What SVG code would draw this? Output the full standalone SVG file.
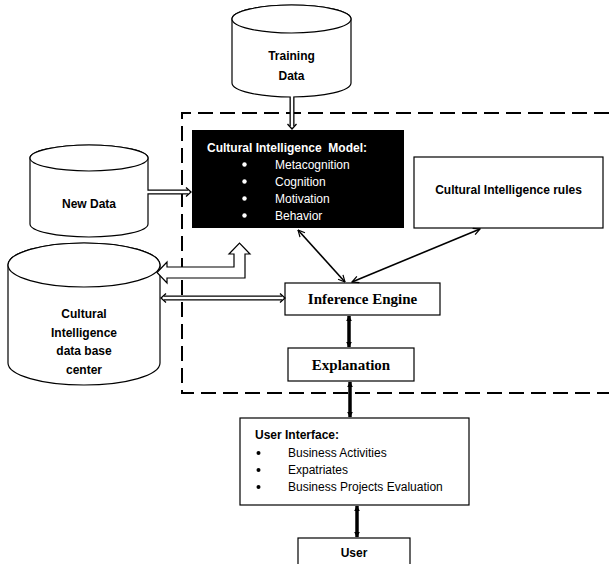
<svg xmlns="http://www.w3.org/2000/svg" width="609" height="564" viewBox="0 0 609 564">
<defs>
<style>
.cyl{fill:#fff;stroke:#000;stroke-width:1.2}
.box{fill:#fff;stroke:#000;stroke-width:1.2}
.lbl{font-family:"Liberation Sans",Arial,sans-serif;font-size:12px;font-weight:bold;fill:#000}
.txt{font-family:"Liberation Sans",Arial,sans-serif;font-size:12px;fill:#000}
.wtxt{font-family:"Liberation Sans",Arial,sans-serif;font-size:12px;fill:#fff}
.ser{font-family:"Liberation Serif","Times New Roman",serif;font-size:15px;font-weight:bold;fill:#000}
.dash{fill:none;stroke:#000;stroke-width:2;stroke-dasharray:15 7}
.dbo{fill:none;stroke:#000;stroke-width:5}
.dbi{fill:none;stroke:#fff;stroke-width:2.4}
.head{fill:none;stroke:#000;stroke-width:1.3}
.thin{fill:none;stroke:#000;stroke-width:1.6;marker-start:url(#chev);marker-end:url(#chev)}
.thick{fill:none;stroke:#000;stroke-width:3.5;marker-start:url(#tri);marker-end:url(#tri)}
</style>
<marker id="chev" viewBox="0 0 12 12" refX="11" refY="6" markerWidth="8" markerHeight="8" orient="auto-start-reverse" markerUnits="userSpaceOnUse">
<path d="M1,1 L11,6 L1,11" fill="none" stroke="#000" stroke-width="1.8"/>
</marker>
<marker id="tri" viewBox="0 0 10 10" refX="9" refY="5" markerWidth="6" markerHeight="7" orient="auto-start-reverse" markerUnits="userSpaceOnUse">
<path d="M0,0 L10,5 L0,10 Z" fill="#000"/>
</marker>
</defs>

<g id="boundary">
<path class="dash" d="M609,113 L182,113 L182,393 L609,393"/>
</g>

<g id="training-data">
<path class="cyl" d="M232,19 A59.5,14 0 0 1 351,19 L351,83 A59.5,14 0 0 1 232,83 Z"/>
<ellipse class="cyl" cx="291.5" cy="19" rx="59.5" ry="14"/>
<text class="lbl" x="291.5" y="60" text-anchor="middle">Training</text>
<text class="lbl" x="291.5" y="80" text-anchor="middle">Data</text>
</g>

<g id="new-data">
<path class="cyl" d="M30,158 A59,13 0 0 1 148,158 L148,224 A59,13 0 0 1 30,224 Z"/>
<ellipse class="cyl" cx="89" cy="158" rx="59" ry="13"/>
<text class="lbl" x="89" y="208" text-anchor="middle">New Data</text>
</g>

<g id="database">
<path class="cyl" d="M8,265 A76,22 0 0 1 160,265 L160,363 A76,22 0 0 1 8,363 Z"/>
<ellipse class="cyl" cx="84" cy="265" rx="76" ry="22"/>
<text class="lbl" x="84" y="318" text-anchor="middle">Cultural</text>
<text class="lbl" x="84" y="337" text-anchor="middle">Intelligence</text>
<text class="lbl" x="84" y="355" text-anchor="middle">data base</text>
<text class="lbl" x="84" y="374" text-anchor="middle">center</text>
</g>

<g id="model">
<rect x="192" y="130" width="212" height="98" fill="#000"/>
<text class="wtxt" x="207" y="152" font-weight="bold" xml:space="preserve">Cultural Intelligence  Model:</text>
<circle cx="244.5" cy="164.5" r="2.2" fill="#fff"/>
<circle cx="244.5" cy="181.5" r="2.2" fill="#fff"/>
<circle cx="244.5" cy="198.5" r="2.2" fill="#fff"/>
<circle cx="244.5" cy="215.5" r="2.2" fill="#fff"/>
<text class="wtxt" x="275" y="169">Metacognition</text>
<text class="wtxt" x="275" y="186">Cognition</text>
<text class="wtxt" x="275" y="203">Motivation</text>
<text class="wtxt" x="275" y="220">Behavior</text>
</g>

<g id="rules">
<rect class="box" x="414" y="157" width="189" height="71"/>
<text class="lbl" x="508.5" y="194" text-anchor="middle">Cultural Intelligence rules</text>
</g>

<g id="inference">
<rect class="box" x="285" y="283" width="155" height="32"/>
<text class="ser" x="362.5" y="304" text-anchor="middle">Inference Engine</text>
</g>

<g id="explanation">
<rect class="box" x="288" y="348" width="126" height="33"/>
<text class="ser" x="351" y="369.5" text-anchor="middle">Explanation</text>
</g>

<g id="user-interface">
<rect class="box" x="240" y="418" width="229" height="87"/>
<text class="lbl" x="255" y="439">User Interface:</text>
<circle cx="258.5" cy="453" r="2" fill="#000"/>
<circle cx="258.5" cy="470" r="2" fill="#000"/>
<circle cx="258.5" cy="487" r="2" fill="#000"/>
<text class="txt" x="288" y="457">Business Activities</text>
<text class="txt" x="288" y="474">Expatriates</text>
<text class="txt" x="288" y="491">Business Projects Evaluation</text>
</g>

<g id="user">
<rect class="box" x="298" y="538" width="112" height="40"/>
<text class="lbl" x="354" y="557" text-anchor="middle">User</text>
</g>

<g id="connectors">
<path class="dbo" d="M292,97 L292,126"/>
<path class="dbi" d="M292,96 L292,126"/>
<path class="head" d="M287.5,124 L292,129 L296.5,124"/>
<path class="dbo" d="M148,192 L188,192"/>
<path class="dbi" d="M147,192 L188,192"/>
<path class="head" d="M186,187.5 L191,192 L186,196.5"/>
<path class="dbo" d="M164,298 L282,298"/>
<path class="dbi" d="M164,298 L282,298"/>
<path class="head" d="M166,293.5 L161,298 L166,302.5"/>
<path class="head" d="M280,293.5 L285,298 L280,302.5"/>
<path d="M157,272.5 L167,262 L167,267 L234,267 L234,254 L229,254 L239.5,243 L250,254 L245,254 L245,278 L167,278 L167,283 Z" fill="#fff" stroke="#000" stroke-width="1.2"/>
<line class="thin" x1="298" y1="230" x2="345" y2="282"/>
<line class="thin" x1="480" y1="229" x2="352" y2="282"/>
<line class="thick" x1="349" y1="316" x2="349" y2="347"/>
<line class="thick" x1="350" y1="382" x2="350" y2="417"/>
<line class="thick" x1="357" y1="506" x2="357" y2="537"/>
</g>
</svg>
